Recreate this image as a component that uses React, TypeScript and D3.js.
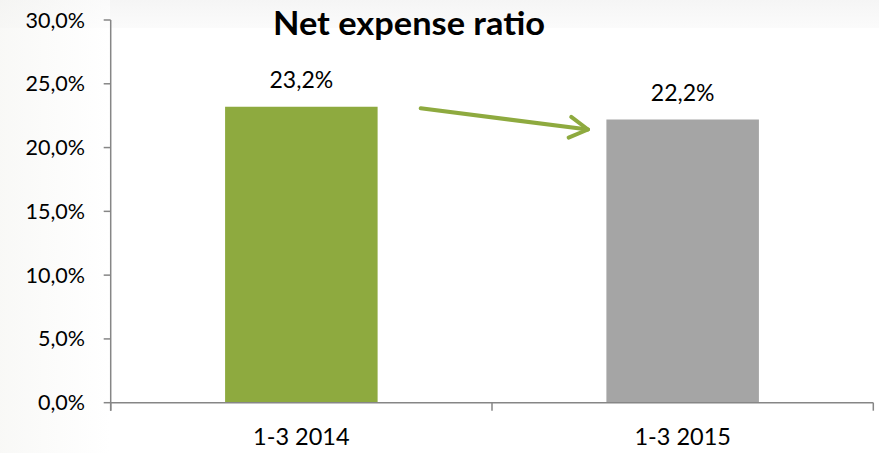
import React from "react";
import * as d3 from "d3";

const categories = ["1-3 2014", "1-3 2015"];
const values = [23.2, 22.2];
const valueLabels = ["23,2%", "22,2%"];
const barColors = ["#8EAA3F", "#A5A5A5"];
const yTicks = [0, 5, 10, 15, 20, 25, 30];
const title = "Net expense ratio";

const W = 879;
const H = 453;
const FONT = "Lato, 'Open Sans', sans-serif";

export default function App() {
  const left = 110.7;
  const right = 873.3;
  const top = 20;
  const bottom = 402.7;

  const y = d3.scaleLinear().domain([0, 30]).range([bottom, top]);
  const x = d3.scaleBand().domain(categories).range([left, right]).paddingInner(0).paddingOuter(0);
  const step = x.step();
  const barW = step * 0.4;
  const fmt = (v: number) => d3.format(".1f")(v).replace(".", ",") + "%";

  const ax1 = 420.7, ay1 = 108.3, ax2 = 588, ay2 = 129.5;
  const ang = Math.atan2(ay2 - ay1, ax2 - ax1);
  const headLen = 21;
  const headAng = 0.52;
  const h1 = [ax2 - headLen * Math.cos(ang - headAng), ay2 - headLen * Math.sin(ang - headAng)];
  const h2 = [ax2 - headLen * Math.cos(ang + headAng), ay2 - headLen * Math.sin(ang + headAng)];
  const arrowColor = "#8EAA3F";

  return (
    <svg width={W} height={H} style={{ position: "absolute", left: 0, top: 0 }}>
      <defs>
        <linearGradient id="leftbg" x1="0" x2="1" y1="0" y2="0">
          <stop offset="0" stopColor="#f4f4f1" />
          <stop offset="1" stopColor="#ffffff" />
        </linearGradient>
        <linearGradient id="topbg" x1="0" x2="0" y1="0" y2="1">
          <stop offset="0" stopColor="#f5f5f5" />
          <stop offset="1" stopColor="#fbfbfb" />
        </linearGradient>
      </defs>
      <rect x={0} y={0} width={W} height={H} fill="#ffffff" />
      <rect x={0} y={0} width={W} height={28} fill="url(#topbg)" />
      <rect x={0} y={0} width={110} height={H} fill="url(#leftbg)" opacity={0.6} />

      {categories.map((c, i) => {
        const cx = (x(c) as number) + step / 2;
        return (
          <g key={c}>
            <rect
              x={cx - barW / 2}
              y={y(values[i])}
              width={barW}
              height={bottom - y(values[i])}
              fill={barColors[i]}
            />
            <text
              x={cx}
              y={y(values[i]) - 19}
              textAnchor="middle"
              fontFamily={FONT}
              fontSize={23}
              fill="#000"
            >
              {valueLabels[i]}
            </text>
            <text
              x={cx}
              y={445}
              textAnchor="middle"
              fontFamily={FONT}
              fontSize={23.5}
              fill="#000"
            >
              {c}
            </text>
          </g>
        );
      })}

      <line x1={left} x2={left} y1={top} y2={bottom + 8} stroke="#868686" strokeWidth={1.5} />
      {yTicks.map((t) => (
        <g key={t}>
          <line x1={left - 7} x2={left} y1={y(t)} y2={y(t)} stroke="#868686" strokeWidth={1.5} />
          <text
            x={85}
            y={y(t) + 7.5}
            textAnchor="end"
            fontFamily={FONT}
            fontSize={21.5}
            fill="#000"
          >
            {fmt(t)}
          </text>
        </g>
      ))}

      <line x1={left} x2={right} y1={bottom} y2={bottom} stroke="#868686" strokeWidth={1.5} />
      {[...categories.map((c) => x(c) as number), right].map((px, i) => (
        <line key={i} x1={px} x2={px} y1={bottom} y2={bottom + 8} stroke="#868686" strokeWidth={1.5} />
      ))}

      <text
        x={409}
        y={34.5}
        textAnchor="middle"
        fontFamily={FONT}
        fontWeight="bold"
        fontSize={32}
        textLength={272}
        lengthAdjust="spacingAndGlyphs"
        fill="#000"
      >
        {title}
      </text>

      <g stroke={arrowColor} strokeWidth={4} strokeLinecap="round" strokeLinejoin="round" fill="none">
        <line x1={ax1} y1={ay1} x2={ax2} y2={ay2} />
        <polyline points={`${h1[0]},${h1[1]} ${ax2},${ay2} ${h2[0]},${h2[1]}`} />
      </g>
    </svg>
  );
}
